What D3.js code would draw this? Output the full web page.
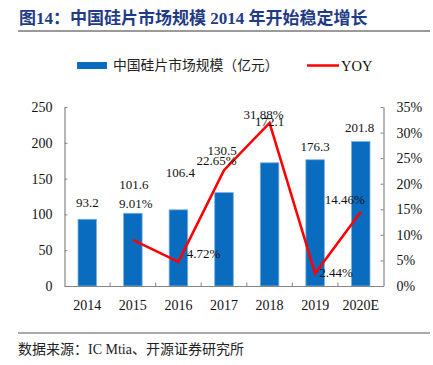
<!DOCTYPE html>
<html><head><meta charset="utf-8">
<script src="https://cdn.jsdelivr.net/npm/d3@7"></script>
<style>
body{margin:0;background:#fff;}
svg text{font-family:"Liberation Serif","Noto Sans CJK SC",serif;}
</style></head>
<body><svg id="c" width="433" height="365"></svg>
<script>
const categories = ["2014","2015","2016","2017","2018","2019","2020E"];
const marketSize = [93.2,101.6,106.4,130.5,172.1,176.3,201.8];
const yoy = [null,9.01,4.72,22.65,31.88,2.44,14.46];
const leftTicks = [0,50,100,150,200,250];
const rightTicks = [0,5,10,15,20,25,30,35];
// label offsets (layout only)
const barLabelOffset = [[0,-12],[1,-24],[2,-33],[-2,-37.5],[0,-37],[0,-9],[-1,-9.5]];
const yoyLabelOffset = [null,[3,-32],[25,-4],[-7.5,-5],[-6,-4],[21,3.5],[-16,-8]];

const svg = d3.select("#c");
const x0 = 64.5, x1 = 383.5, yTop = 107, yBot = 286;

// title
svg.append("text").attr("x",19).attr("y",24).attr("fill","#1f3b87")
  .attr("font-size",17).attr("font-weight","bold")
  .text("图14：中国硅片市场规模 2014 年开始稳定增长");
svg.append("line").attr("x1",18).attr("x2",430).attr("y1",31).attr("y2",31)
  .attr("stroke","#9a9a9a").attr("stroke-width",2);

// legend
svg.append("rect").attr("x",77).attr("y",62).attr("width",30).attr("height",7).attr("fill","#0a6cbf");
svg.append("text").attr("x",113).attr("y",70).attr("font-size",13.8).attr("fill","#222")
  .text("中国硅片市场规模（亿元）");
svg.append("line").attr("x1",307).attr("x2",339).attr("y1",65.5).attr("y2",65.5)
  .attr("stroke","#ff0000").attr("stroke-width",2.5);
svg.append("text").attr("x",341).attr("y",70.5).attr("font-size",14.5).attr("fill","#111").text("YOY");

const xb = d3.scaleBand().domain(categories).range([x0,x1]);
const yL = d3.scaleLinear().domain([0,250]).range([yBot,yTop]);
const yR = d3.scaleLinear().domain([0,35]).range([yBot,yTop]);

const axisColor = "#858585";
// left axis
const gl = svg.append("g").attr("transform",`translate(${x0},0)`)
  .call(d3.axisLeft(yL).tickValues(leftTicks).tickSizeInner(-3).tickSizeOuter(0).tickPadding(12));
// right axis
const gr = svg.append("g").attr("transform",`translate(${x1},0)`)
  .call(d3.axisRight(yR).tickValues(rightTicks).tickFormat(d=>d+"%").tickSizeInner(-3).tickSizeOuter(0).tickPadding(13));
[gl,gr].forEach(g=>{
  g.select(".domain").attr("stroke",axisColor).attr("stroke-width",1.2);
  g.selectAll(".tick line").attr("stroke",axisColor);
  g.selectAll(".tick text").attr("font-size",14).attr("fill","#111")
   .attr("font-family","Liberation Serif");
});

// bars
svg.append("g").selectAll("rect").data(marketSize).join("rect")
  .attr("x",(d,i)=>xb(categories[i])+xb.bandwidth()/2-9.3)
  .attr("width",18.6)
  .attr("y",d=>yL(d)).attr("height",d=>yBot-yL(d))
  .attr("fill","#0a6cbf").attr("stroke","#7fb2e2").attr("stroke-width",0.8);

// x axis
const gx = svg.append("g").attr("transform",`translate(0,${yBot})`)
  .call(d3.axisBottom(xb).tickSize(0).tickPadding(14));
gx.select(".domain").attr("stroke",axisColor).attr("stroke-width",1.2);
gx.selectAll(".tick text").attr("font-size",14).attr("fill","#111").attr("font-family","Liberation Serif");
// category separators (inside ticks)
svg.append("g").selectAll("line").data(categories.slice(1)).join("line")
  .attr("x1",d=>xb(d)).attr("x2",d=>xb(d)).attr("y1",yBot).attr("y2",yBot-3.5)
  .attr("stroke",axisColor);

// yoy line
const pts = yoy.map((v,i)=>({v,i})).filter(p=>p.v!==null);
const line = d3.line().x(p=>xb(categories[p.i])+xb.bandwidth()/2).y(p=>yR(p.v));
svg.append("path").datum(pts).attr("d",line).attr("fill","none")
  .attr("stroke","#ff0000").attr("stroke-width",2.6).attr("stroke-linejoin","miter");

// bar labels
svg.append("g").selectAll("text").data(marketSize).join("text")
  .attr("x",(d,i)=>xb(categories[i])+xb.bandwidth()/2+barLabelOffset[i][0])
  .attr("y",(d,i)=>yL(d)+barLabelOffset[i][1])
  .attr("text-anchor","middle").attr("font-size",13).attr("fill","#111")
  .text(d=>d.toFixed(1));
// yoy labels
svg.append("g").selectAll("text").data(pts).join("text")
  .attr("x",p=>xb(categories[p.i])+xb.bandwidth()/2+yoyLabelOffset[p.i][0])
  .attr("y",p=>yR(p.v)+yoyLabelOffset[p.i][1])
  .attr("text-anchor","middle").attr("font-size",13).attr("fill","#111")
  .text(p=>p.v.toFixed(2)+"%");

// footer
svg.append("line").attr("x1",18).attr("x2",430).attr("y1",333).attr("y2",333)
  .attr("stroke","#555").attr("stroke-width",1);
svg.append("text").attr("x",18).attr("y",354).attr("font-size",14).attr("fill","#222")
  .text("数据来源：IC Mtia、开源证券研究所");
</script></body></html>
